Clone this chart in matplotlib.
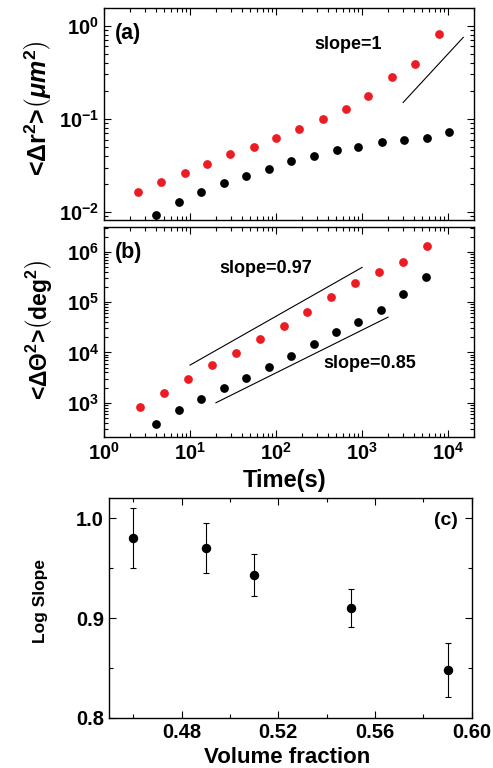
import matplotlib
matplotlib.use('Agg')
import matplotlib.pyplot as plt
from matplotlib.ticker import FuncFormatter, LogLocator, NullFormatter, MultipleLocator
import numpy as np

plt.rcParams['font.family'] = ['Liberation Sans', 'DejaVu Sans']
plt.rcParams['font.weight'] = 'bold'
plt.rcParams['mathtext.fontset'] = 'custom'
plt.rcParams['mathtext.rm'] = 'Liberation Sans:bold'
plt.rcParams['mathtext.it'] = 'Liberation Sans:bold:italic'
plt.rcParams['mathtext.bf'] = 'Liberation Sans:bold'

# panel (a): translational MSD
t_a_red = [2.5, 4.65, 8.7, 15.8, 29.5, 55, 100, 186, 347, 645, 1175, 2240, 4170, 7760]
msd_a_red = [0.0165, 0.0212, 0.026, 0.0326, 0.042, 0.0504, 0.063, 0.078, 0.0993,
             0.129, 0.174, 0.278, 0.39, 0.815]
t_a_blk = [3.97, 7.4, 13.3, 24.5, 45, 82.4, 150, 274, 505, 908, 1694, 3076, 5636, 10230]
msd_a_blk = [0.0093, 0.0127, 0.0164, 0.0205, 0.0244, 0.0288, 0.0353, 0.04, 0.046,
             0.0504, 0.0566, 0.0594, 0.063, 0.0725]

# panel (b): rotational MSD
t_b_red = [2.61, 4.95, 9.5, 17.8, 33.9, 64.3, 122, 231, 439, 832, 1578, 2992, 5728]
msd_b_red = [832, 1560, 2960, 5540, 9860, 18200, 33000, 64500, 124000, 236000,
             402000, 627000, 1.30e6]
t_b_blk = [4.0, 7.4, 13.4, 24.5, 45, 82, 151, 274, 501, 908, 1680, 3020, 5570]
msd_b_blk = [378, 716, 1185, 1930, 3050, 5060, 8360, 14700, 25500, 39700, 69700,
             143000, 311000]

# panel (c): slope vs volume fraction
phi = [0.46, 0.49, 0.51, 0.55, 0.59]
log_slope = [0.98, 0.97, 0.943, 0.91, 0.848]
slope_err = [0.03, 0.025, 0.021, 0.019, 0.027]

red = '#ed1c24'

fig = plt.figure(figsize=(4.93, 7.68), dpi=100)
ax1 = fig.add_axes([0.211, 0.7135, 0.7505, 0.2761])
ax2 = fig.add_axes([0.211, 0.4306, 0.7505, 0.2734])
ax3 = fig.add_axes([0.221, 0.0655, 0.736, 0.2855])

logfmt = FuncFormatter(lambda v, p: r'$\mathbf{10^{%d}}$' % round(np.log10(v)))

for ax in (ax1, ax2):
    ax.set_xscale('log')
    ax.set_yscale('log')
    ax.set_xlim(1, 2e4)
    ax.xaxis.set_major_locator(LogLocator(base=10, numticks=10))
    ax.xaxis.set_minor_locator(LogLocator(base=10, subs=np.arange(2, 10), numticks=20))
    ax.yaxis.set_minor_locator(LogLocator(base=10, subs=np.arange(2, 10), numticks=20))
    ax.yaxis.set_major_formatter(logfmt)
    ax.yaxis.set_minor_formatter(NullFormatter())
    ax.xaxis.set_minor_formatter(NullFormatter())

for ax in (ax1, ax2, ax3):
    ax.tick_params(which='both', direction='in', top=True, right=True, labelsize=14.5, width=0.8)
    ax.tick_params(which='major', length=5)
    ax.tick_params(which='minor', length=3)
    for s in ax.spines.values():
        s.set_linewidth(1.0)

# (a)
ax1.plot(t_a_red, msd_a_red, 'o', color=red, ms=6.3, mec='none')
ax1.plot(t_a_blk, msd_a_blk, 'o', color='black', ms=6.3, mec='none')
xl = np.array([3000, 15000])
ax1.plot(xl, 0.15 * (xl / 3000), '-', color='black', lw=0.8)
ax1.set_ylim(0.0082, 1.55)
ax1.yaxis.set_major_locator(LogLocator(base=10, numticks=10))
ax1.xaxis.set_major_formatter(NullFormatter())
ax1.text(0.03, 0.93, '(a)', transform=ax1.transAxes, fontsize=15.5, fontweight='bold', va='top')
ax1.text(0.66, 0.83, 'slope=1', transform=ax1.transAxes, fontsize=13, fontweight='bold', ha='center', va='center')
ax1.set_ylabel('<Δr$^{\\mathbf{2}}$>' + r'$\left(\mathit{\mu m}^{\mathbf{2}}\right)$', fontsize=18, fontweight='bold')
ax1.yaxis.set_label_coords(-0.135, 0.53)

# (b)
ax2.plot(t_b_red, msd_b_red, 'o', color=red, ms=6.3, mec='none')
ax2.plot(t_b_blk, msd_b_blk, 'o', color='black', ms=6.3, mec='none')
xu = np.array([10, 1000])
ax2.plot(xu, 5600 * (xu / 10) ** 0.97, '-', color='black', lw=0.8)
xd = np.array([20, 2000])
ax2.plot(xd, 1000 * (xd / 20) ** 0.85, '-', color='black', lw=0.8)
ax2.set_ylim(206, 3.05e6)
ax2.yaxis.set_major_locator(LogLocator(base=10, numticks=10))
ax2.xaxis.set_major_formatter(logfmt)
ax2.text(0.03, 0.93, '(b)', transform=ax2.transAxes, fontsize=15.5, fontweight='bold', va='top')
ax2.text(0.437, 0.805, 'slope=0.97', transform=ax2.transAxes, fontsize=13, fontweight='bold', ha='center', va='center')
ax2.text(0.718, 0.352, 'slope=0.85', transform=ax2.transAxes, fontsize=13, fontweight='bold', ha='center', va='center')
ax2.set_ylabel('<ΔΘ$^{\\mathbf{2}}$>' + r'$\left(\mathrm{deg}^{\mathbf{2}}\right)$', fontsize=16.5, fontweight='bold')
ax2.yaxis.set_label_coords(-0.135, 0.51)
ax2.set_xlabel('Time(s)', fontsize=17, fontweight='bold')
ax2.xaxis.set_label_coords(0.487, -0.151)

# (c)
ax3.errorbar(phi, log_slope, yerr=slope_err, fmt='o', color='black', ms=5.8,
             ecolor='black', elinewidth=0.8, capsize=2.5, capthick=0.8)
ax3.set_xlim(0.45, 0.60)
ax3.set_ylim(0.8, 1.02)
ax3.xaxis.set_major_locator(MultipleLocator(0.04))
ax3.xaxis.set_minor_locator(MultipleLocator(0.02))
ax3.yaxis.set_major_locator(MultipleLocator(0.1))
ax3.yaxis.set_minor_locator(MultipleLocator(0.05))
ax3.xaxis.set_major_formatter(FuncFormatter(lambda v, p: '%.2f' % v))
ax3.yaxis.set_major_formatter(FuncFormatter(lambda v, p: '%.1f' % v))
ax3.text(0.93, 0.9, '(c)', transform=ax3.transAxes, fontsize=14, fontweight='bold', ha='center', va='center')
ax3.set_ylabel('Log Slope', fontsize=12.5, fontweight='bold')
ax3.yaxis.set_label_coords(-0.168, 0.53)
ax3.set_xlabel('Volume fraction', fontsize=16, fontweight='bold')
ax3.xaxis.set_label_coords(0.49, -0.135)

fig.savefig('out.png', dpi=100)
